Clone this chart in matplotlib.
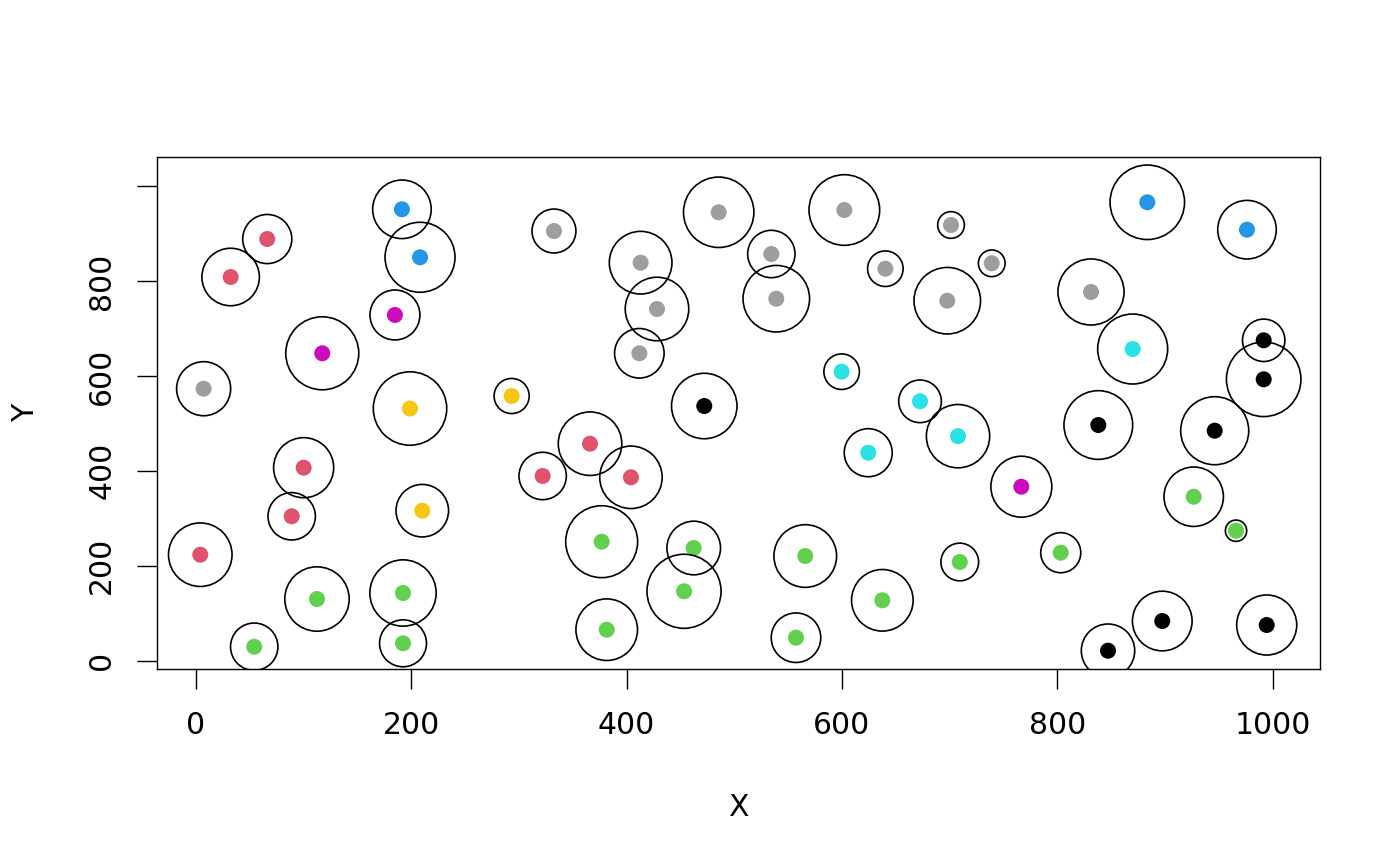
import matplotlib
matplotlib.use("Agg")
import matplotlib.pyplot as plt
import numpy as np

# ---- data ----
red_x = [66.3, 32.3, 100.1, 89.0, 4.1, 366.1, 322.1, 404.1]
red_y = [889.0, 808.9, 406.7, 304.2, 223.2, 457.3, 389.2, 386.4]
red_r = [22.8, 26.7, 27.9, 22.0, 29.5, 29.5, 22.0, 29.0]

green_x = [54.2, 112.5, 192.4, 192.4, 376.9, 381.6, 453.4, 462.4, 566.0, 557.4, 637.6, 709.5, 803.3, 926.8, 966.1]
green_y = [29.1, 129.7, 142.4, 36.3, 250.6, 65.0, 146.0, 237.3, 220.4, 48.1, 127.0, 207.8, 227.4, 345.5, 273.8]
green_r = [22.0, 29.9, 30.8, 21.8, 33.4, 28.6, 34.4, 24.9, 29.1, 23.0, 28.6, 17.5, 18.6, 27.6, 9.9]

blue_x = [191.4, 208.2, 883.7, 976.3]
blue_y = [951.7, 850.5, 966.5, 908.7]
blue_r = [27.2, 32.5, 34.6, 27.2]

magenta_x = [184.9, 117.4, 766.7]
magenta_y = [728.8, 648.0, 366.6]
magenta_r = [23.2, 33.9, 28.3]

yellow_x = [198.9, 293.3, 210.3]
yellow_y = [531.5, 557.9, 316.0]
yellow_r = [34.1, 16.3, 24.4]

gray_x = [7.2, 332.6, 413.1, 428.3, 411.9, 485.6, 534.5, 539.1, 602.3, 640.4, 701.4, 739.2, 697.9, 831.4]
gray_y = [573.3, 905.9, 839.1, 741.4, 648.0, 945.4, 857.4, 763.1, 950.2, 826.4, 918.6, 837.8, 758.9, 777.3]
gray_r = [25.1, 20.4, 29.1, 29.5, 23.0, 32.7, 22.0, 30.9, 32.8, 16.5, 12.4, 12.4, 30.9, 30.7]

cyan_x = [599.8, 624.5, 672.6, 707.9, 870.1]
cyan_y = [609.2, 438.3, 546.7, 473.2, 657.0]
cyan_r = [16.5, 22.3, 19.8, 29.4, 32.5]

black_x = [472.2, 838.2, 946.3, 991.8, 991.8, 847.2, 897.6, 994.6]
black_y = [536.8, 496.7, 484.7, 675.4, 593.1, 20.7, 83.3, 74.9]
black_r = [30.4, 31.9, 31.6, 19.7, 34.6, 24.8, 27.7, 27.9]

groups = [
    (black_x, black_y, black_r, "#000000"),
    (red_x, red_y, red_r, "#DF536B"),
    (green_x, green_y, green_r, "#61D04F"),
    (blue_x, blue_y, blue_r, "#2297E6"),
    (cyan_x, cyan_y, cyan_r, "#28E2E5"),
    (magenta_x, magenta_y, magenta_r, "#CD0BBC"),
    (yellow_x, yellow_y, yellow_r, "#F5C710"),
    (gray_x, gray_y, gray_r, "#9E9E9E"),
]

x_ticks = [0, 200, 400, 600, 800, 1000]
y_ticks = [0, 200, 400, 600, 800, 1000]
y_tick_labels = ["0", "200", "400", "600", "800", ""]

DPI = 100
fig = plt.figure(figsize=(14, 8.66), dpi=DPI)
ax = fig.add_axes([157 / 1400, (866 - 669) / 866, (1320 - 157) / 1400, (669 - 157) / 866])
ax.set_xlim(-36.1, 1044.1)
ax.set_ylim(-17.9, 1062.0)

# pixels per x data unit (circles are round in pixel space)
p0 = ax.transData.transform((0, 0))
p1 = ax.transData.transform((1, 0))
px_per_unit = p1[0] - p0[0]

for gx, gy, gr, col in groups:
    ax.scatter(gx, gy, s=(16 * 72 / DPI) ** 2, c=col, edgecolors="none", zorder=2)
for gx, gy, gr, col in groups:
    r_px = np.array(gr) * px_per_unit
    sizes = (2 * r_px * 72 / DPI) ** 2
    ax.scatter(gx, gy, s=sizes, facecolors="none", edgecolors="black", linewidths=1.2, zorder=3)

for sp in ax.spines.values():
    sp.set_linewidth(1.0)

ax.set_xticks(x_ticks)
ax.set_xticklabels([str(t) for t in x_ticks])
ax.set_yticks(y_ticks)
ax.set_yticklabels(y_tick_labels, rotation=90, va="center")
ax.tick_params(axis="both", length=14.4, width=1.0, labelsize=21.5, direction="out")
ax.tick_params(axis="x", pad=16)
ax.tick_params(axis="y", pad=15)

ax.set_xlabel("X", fontsize=21.5, labelpad=38)
ax.set_ylabel("Y", fontsize=21.5, labelpad=34)

fig.savefig("out.png", dpi=DPI)
